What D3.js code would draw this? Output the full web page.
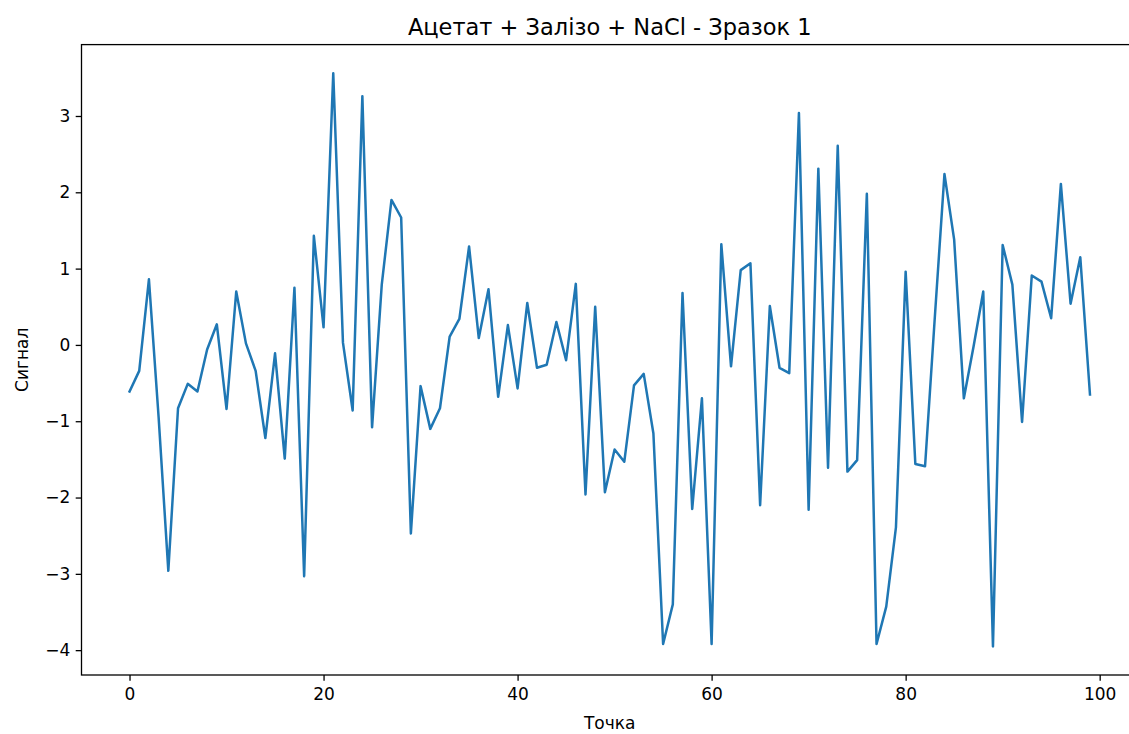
<!DOCTYPE html>
<html>
<head>
<meta charset="utf-8">
<script src="https://cdn.jsdelivr.net/npm/d3@7"></script>
<style>
  body { margin: 0; background: #fff; }
  svg { display: block; font-family: "DejaVu Sans", sans-serif; }
</style>
</head>
<body>
<div id="chart"></div>
<script>
// values
const signal = [
  -0.61, -0.34, 0.86, -0.95, -2.96, -0.83, -0.51, -0.61, -0.06, 0.27,
  -0.84, 0.70, 0.02, -0.34, -1.22, -0.11, -1.49, 0.75, -3.03, 1.43,
  0.23, 3.56, 0.03, -0.86, 3.26, -1.08, 0.79, 1.90, 1.67, -2.47,
  -0.54, -1.10, -0.83, 0.11, 0.34, 1.29, 0.09, 0.73, -0.68, 0.26,
  -0.57, 0.55, -0.30, -0.26, 0.30, -0.20, 0.80, -1.96, 0.50, -1.93,
  -1.37, -1.53, -0.53, -0.38, -1.16, -3.92, -3.40, 0.68, -2.15, -0.70,
  -3.92, 1.32, -0.28, 0.98, 1.07, -2.10, 0.51, -0.30, -0.37, 3.04,
  -2.16, 2.31, -1.61, 2.61, -1.66, -1.51, 1.98, -3.92, -3.43, -2.39,
  0.96, -1.56, -1.59, 0.35, 2.24, 1.38, -0.70, -0.02, 0.70, -3.95,
  1.31, 0.79, -1.01, 0.91, 0.83, 0.35, 2.11, 0.54, 1.15, -0.65
];
const xTicks = [0, 20, 40, 60, 80, 100];
const yTicks = [-4, -3, -2, -1, 0, 1, 2, 3];
const title = 'Ацетат + Залізо + NaCl - Зразок 1';
const xLabel = 'Точка';
const yLabel = 'Сигнал';

const width = 1129, height = 734;
const plotLeft = 81.5, plotRight = 1138, plotTop = 44.6, plotBottom = 675;

const svg = d3.select('#chart').append('svg')
  .attr('width', width)
  .attr('height', height);

// matplotlib style 5% margins
const yMin = d3.min(signal), yMax = d3.max(signal);
const yPad = (yMax - yMin) * 0.05;
const xPad = (signal.length - 1) * 0.05;

const x = d3.scaleLinear()
  .domain([-xPad, signal.length - 1 + xPad])
  .range([plotLeft, plotRight]);
const y = d3.scaleLinear()
  .domain([yMin - yPad, yMax + yPad])
  .range([plotBottom, plotTop]);

const fmt = d3.format('d');

const xAxis = svg.append('g')
  .attr('transform', `translate(0,${plotBottom})`)
  .call(d3.axisBottom(x).tickValues(xTicks).tickFormat(fmt).tickSize(5.8).tickPadding(7));
const yAxis = svg.append('g')
  .attr('transform', `translate(${plotLeft},0)`)
  .call(d3.axisLeft(y).tickValues(yTicks).tickFormat(d => fmt(d).replace('-', '\u2212')).tickSize(5.8).tickPadding(5.5));

[xAxis, yAxis].forEach(a => {
  a.select('.domain').remove();
  a.selectAll('.tick line').attr('stroke', '#000').attr('stroke-width', 1.3);
  a.selectAll('.tick text')
    .attr('fill', '#000')
    .style('font-size', '17px')
    .style('font-family', '"DejaVu Sans", sans-serif');
});

const line = d3.line()
  .x((d, i) => x(i))
  .y(d => y(d));

svg.append('path')
  .datum(signal)
  .attr('fill', 'none')
  .attr('stroke', '#1f77b4')
  .attr('stroke-width', 2.5)
  .attr('stroke-linejoin', 'round')
  .attr('stroke-linecap', 'square')
  .attr('d', line);

// spines
svg.append('rect')
  .attr('x', plotLeft)
  .attr('y', plotTop)
  .attr('width', plotRight - plotLeft)
  .attr('height', plotBottom - plotTop)
  .attr('fill', 'none')
  .attr('stroke', '#000')
  .attr('stroke-width', 1.3);

svg.append('text')
  .attr('x', (plotLeft + plotRight) / 2)
  .attr('y', 35)
  .attr('text-anchor', 'middle')
  .style('font-size', '22.5px')
  .text(title);

svg.append('text')
  .attr('x', (plotLeft + plotRight) / 2)
  .attr('y', 729)
  .attr('text-anchor', 'middle')
  .style('font-size', '17px')
  .text(xLabel);

svg.append('text')
  .attr('transform', `translate(28,${(plotTop + plotBottom) / 2}) rotate(-90)`)
  .attr('text-anchor', 'middle')
  .style('font-size', '17px')
  .text(yLabel);
</script>
</body>
</html>
